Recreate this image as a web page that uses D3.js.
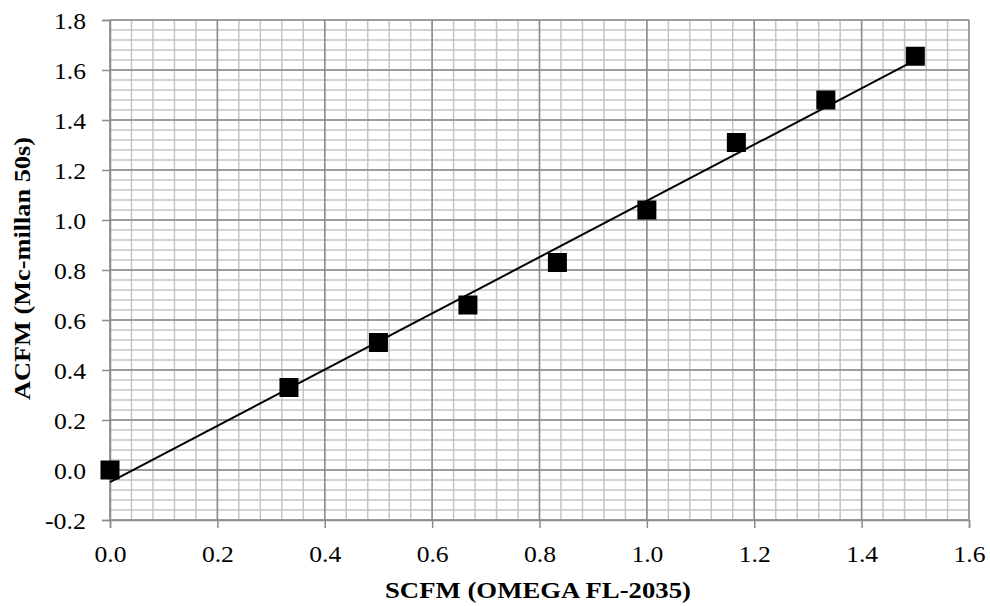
<!DOCTYPE html>
<html>
<head>
<meta charset="utf-8">
<script src="https://cdn.jsdelivr.net/npm/d3@7"></script>
<style>
  html, body { margin: 0; padding: 0; background: #fff; }
  svg { display: block; }
  svg text { font-family: "Times New Roman", "Liberation Serif", Times, serif !important; }
</style>
</head>
<body>
<svg id="chart" width="990" height="606"></svg>
<script>
// Flow readings: standard flow meter vs. actual flow
const scfm = [0, 1/3, 0.5, 2/3, 5/6, 1, 7/6, 4/3, 1.5];
const acfm = [0.0, 0.33, 0.51, 0.66, 0.83, 1.04, 1.31, 1.48, 1.655];

const xTicks = [0, 0.2, 0.4, 0.6, 0.8, 1.0, 1.2, 1.4, 1.6];
const yTicks = [-0.2, 0, 0.2, 0.4, 0.6, 0.8, 1.0, 1.2, 1.4, 1.6, 1.8];
const xTitle = "SCFM (OMEGA FL-2035)";
const yTitle = "ACFM (Mc-millan 50s)";

const svg = d3.select("#chart");
const plotL = 110, plotR = 969, plotT = 20, plotB = 520;

const x = d3.scaleLinear().domain([0, 1.6]).range([plotL, plotR]);
const y = d3.scaleLinear().domain([-0.2, 1.8]).range([plotB, plotT]);

// tick labels use a plain hyphen for negatives
const fmt = d => d3.format(".1f")(d).replace("\u2212", "-");
// the lettering is set slightly wide; widths per label
const labelWidth = t => t.startsWith("-") ? 41 : 32;

// Minor grid (every 0.04 units)
const xMinor = d3.range(0, 41).map(i => i * 0.04);
const yMinor = d3.range(0, 51).map(i => -0.2 + i * 0.04);

const grid = svg.append("g");
grid.selectAll("line.xm").data(xMinor).join("line")
  .attr("class", "xm")
  .attr("x1", d => x(d)).attr("x2", d => x(d))
  .attr("y1", plotT).attr("y2", plotB)
  .attr("stroke", "#c4c4c4").attr("stroke-width", 1.5);
grid.selectAll("line.ym").data(yMinor).join("line")
  .attr("class", "ym")
  .attr("x1", plotL).attr("x2", plotR)
  .attr("y1", d => y(d)).attr("y2", d => y(d))
  .attr("stroke", "#c4c4c4").attr("stroke-width", 1.5);

// Major grid
grid.selectAll("line.xM").data(xTicks).join("line")
  .attr("class", "xM")
  .attr("x1", d => x(d)).attr("x2", d => x(d))
  .attr("y1", plotT).attr("y2", plotB)
  .attr("stroke", "#8c8c8c").attr("stroke-width", 1.5);
grid.selectAll("line.yM").data(yTicks).join("line")
  .attr("class", "yM")
  .attr("x1", plotL).attr("x2", plotR)
  .attr("y1", d => y(d)).attr("y2", d => y(d))
  .attr("stroke", "#8c8c8c").attr("stroke-width", 1.5);

// Axes
const xAxis = svg.append("g")
  .attr("transform", `translate(0,${plotB})`)
  .call(d3.axisBottom(x).tickValues(xTicks).tickFormat(fmt).tickSize(8).tickPadding(14));
const yAxis = svg.append("g")
  .attr("transform", `translate(${plotL},0)`)
  .call(d3.axisLeft(y).tickValues(yTicks).tickFormat(fmt).tickSize(8).tickPadding(16));

[xAxis, yAxis].forEach(a => {
  a.attr("font-family", null).attr("font-size", null);
  a.select(".domain").attr("stroke", "#8c8c8c").attr("stroke-width", 1.5);
  a.selectAll(".tick line").attr("stroke", "#8c8c8c").attr("stroke-width", 1.5);
  a.selectAll(".tick text")
    .attr("fill", "#000")
    .style("font-size", "23.5px")
    .attr("textLength", function() { return labelWidth(this.textContent); })
    .attr("lengthAdjust", "spacingAndGlyphs");
});
yAxis.selectAll(".tick text").attr("dy", "0.38em");
xAxis.selectAll(".tick text").attr("y", 41.5).attr("dy", 0);

// Linear least-squares trendline through the readings
const n = scfm.length;
const mx = d3.mean(scfm), my = d3.mean(acfm);
let sxy = 0, sxx = 0;
for (let i = 0; i < n; i++) {
  sxy += (scfm[i] - mx) * (acfm[i] - my);
  sxx += (scfm[i] - mx) ** 2;
}
const slope = sxy / sxx, intercept = my - slope * mx;
const xExt = d3.extent(scfm);
svg.append("path")
  .datum(xExt.map(v => [v, intercept + slope * v]))
  .attr("d", d3.line().x(d => x(d[0])).y(d => y(d[1])))
  .attr("fill", "none").attr("stroke", "#000").attr("stroke-width", 2);

// Square markers
const s = 19;
svg.append("g").selectAll("rect").data(scfm.map((v, i) => [v, acfm[i]])).join("rect")
  .attr("x", d => x(d[0]) - s / 2)
  .attr("y", d => y(d[1]) - s / 2)
  .attr("width", s).attr("height", s)
  .attr("fill", "#000");

// Axis titles
svg.append("text")
  .attr("x", 538).attr("y", 598)
  .attr("text-anchor", "middle")
  .attr("textLength", 306).attr("lengthAdjust", "spacingAndGlyphs")
  .style("font-size", "23.5px").style("font-weight", "bold")
  .text(xTitle);
svg.append("text")
  .attr("transform", `translate(30,${(plotT + plotB) / 2 - 1.5}) rotate(-90)`)
  .attr("text-anchor", "middle")
  .attr("textLength", 263).attr("lengthAdjust", "spacingAndGlyphs")
  .style("font-size", "23.5px").style("font-weight", "bold")
  .text(yTitle);
</script>
</body>
</html>
